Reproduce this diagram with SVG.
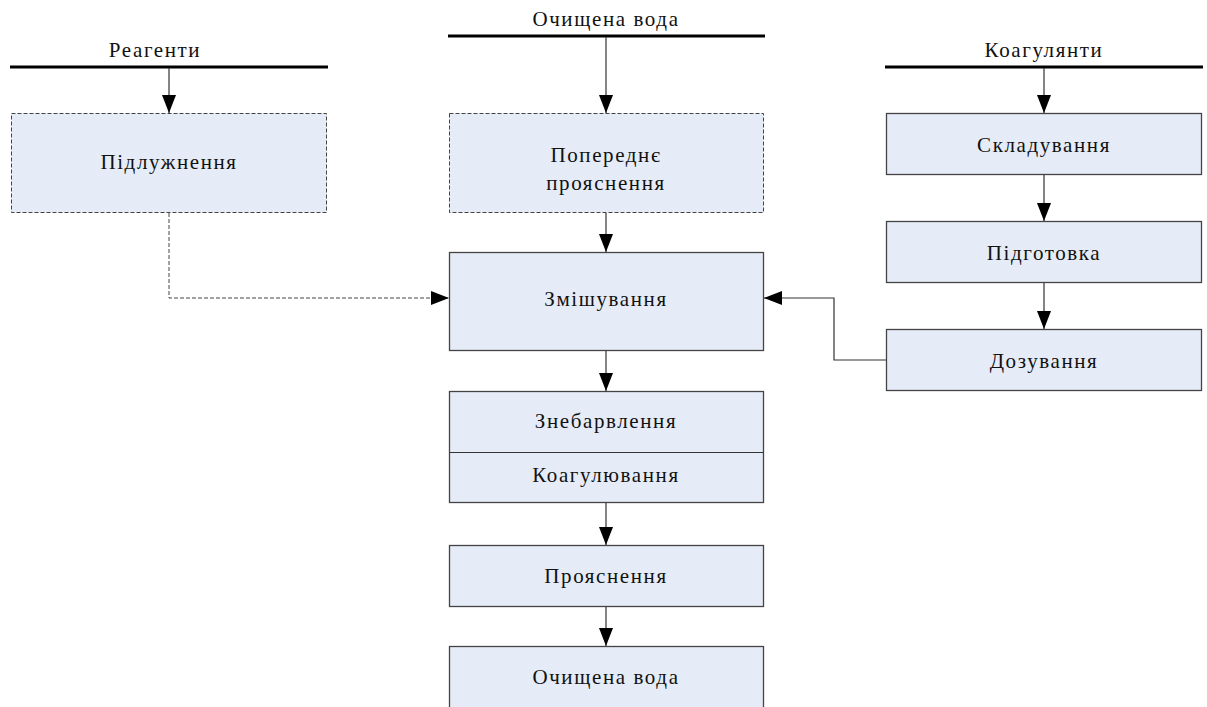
<svg xmlns="http://www.w3.org/2000/svg" width="1207" height="707" viewBox="0 0 1207 707">
<style>
text{font-family:"Liberation Serif","Times New Roman",serif;font-size:21px;letter-spacing:1.6px;fill:#111;text-anchor:middle}
.box{fill:#E6ECF7;stroke:#444;stroke-width:1.3}
.dbox{fill:#E6ECF7;stroke:#444;stroke-width:1;stroke-dasharray:4 2}
.bar{stroke:#000;stroke-width:3}
.c{fill:none;stroke:#333;stroke-width:1.2}
.dc{fill:none;stroke:#444;stroke-width:1;stroke-dasharray:4 2}
</style>
<defs>
<marker id="ah" markerUnits="userSpaceOnUse" markerWidth="18" markerHeight="14" viewBox="0 0 18 14" refX="18" refY="7" orient="auto">
<path d="M0,0 L18,7 L0,14 Z" fill="#000"/>
</marker>
</defs>
<rect width="1207" height="707" fill="#fff"/>
<g id="src-reagenty">
<line class="bar" x1="10" y1="67" x2="328" y2="67"/>
<text x="155" y="57">Реагенти</text>
</g>
<g id="src-voda">
<line class="bar" x1="448" y1="36" x2="765" y2="36"/>
<text x="606" y="26">Очищена вода</text>
</g>
<g id="src-koagulyanty">
<line class="bar" x1="885" y1="67" x2="1203" y2="67"/>
<text x="1044" y="57">Коагулянти</text>
</g>
<g id="n-pidluzhennya">
<rect class="dbox" x="11.5" y="113.5" width="315" height="99"/>
<text x="169" y="169">Підлужнення</text>
</g>
<g id="n-poperednye">
<rect class="dbox" x="449.5" y="113.5" width="314" height="99"/>
<text x="606" y="162">Попереднє</text>
<text x="606" y="190">прояснення</text>
</g>
<g id="n-zmishuvannya">
<rect class="box" x="449.5" y="252.5" width="314" height="98"/>
<text x="606" y="306">Змішування</text>
</g>
<g id="n-znebarvlennya">
<rect class="box" x="449.5" y="391.5" width="314" height="111"/>
<line x1="449.5" y1="452.5" x2="763.5" y2="452.5" stroke="#333" stroke-width="1.2"/>
<text x="606" y="428">Знебарвлення</text>
<text x="606" y="482">Коагулювання</text>
</g>
<g id="n-proyasnennya">
<rect class="box" x="449.5" y="545.5" width="314" height="61"/>
<text x="606" y="583">Прояснення</text>
</g>
<g id="n-ochyshchena">
<rect class="box" x="449.5" y="646.5" width="314" height="70"/>
<text x="606" y="684">Очищена вода</text>
</g>
<g id="n-skladuvannya">
<rect class="box" x="886.5" y="113.5" width="315" height="61"/>
<text x="1044" y="152">Складування</text>
</g>
<g id="n-pidgotovka">
<rect class="box" x="886.5" y="221.5" width="315" height="61"/>
<text x="1044" y="260">Підготовка</text>
</g>
<g id="n-dozuvannya">
<rect class="box" x="886.5" y="329.5" width="315" height="61"/>
<text x="1044" y="368">Дозування</text>
</g>
<g id="connectors">
<line class="c" x1="169" y1="68" x2="169" y2="113" marker-end="url(#ah)"/>
<line class="c" x1="606" y1="37" x2="606" y2="113" marker-end="url(#ah)"/>
<line class="c" x1="1044" y1="68" x2="1044" y2="113" marker-end="url(#ah)"/>
<line class="c" x1="606" y1="213" x2="606" y2="252" marker-end="url(#ah)"/>
<line class="c" x1="606" y1="351" x2="606" y2="391" marker-end="url(#ah)"/>
<line class="c" x1="606" y1="503" x2="606" y2="545" marker-end="url(#ah)"/>
<line class="c" x1="606" y1="607" x2="606" y2="646" marker-end="url(#ah)"/>
<line class="c" x1="1044" y1="175" x2="1044" y2="221" marker-end="url(#ah)"/>
<line class="c" x1="1044" y1="283" x2="1044" y2="329" marker-end="url(#ah)"/>
<polyline class="dc" points="169,213 169,298 449,298" marker-end="url(#ah)"/>
<polyline class="c" points="886,360 834,360 834,298 764,298" marker-end="url(#ah)"/>
</g>
</svg>
